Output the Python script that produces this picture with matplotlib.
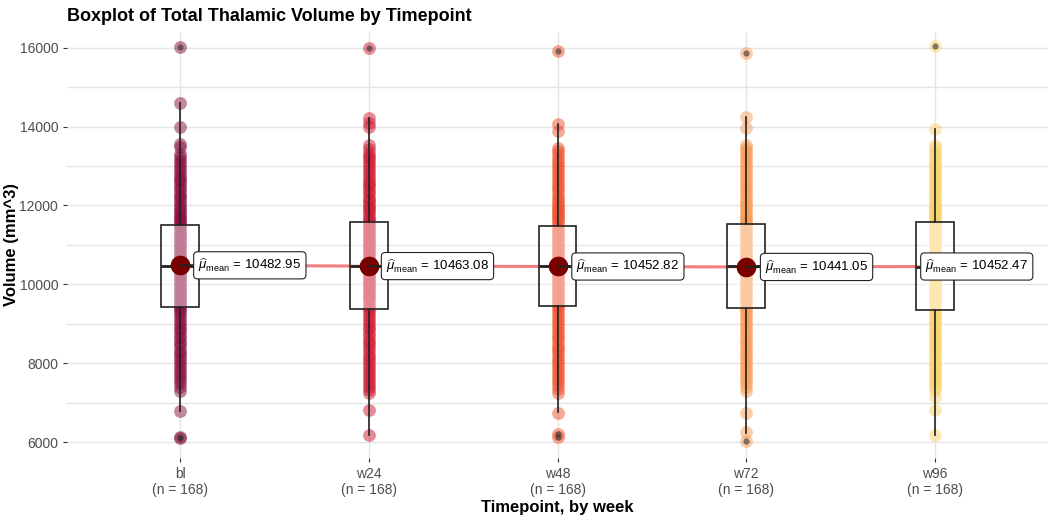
import numpy as np
import matplotlib.pyplot as plt

plt.rcParams['font.family'] = ['Liberation Sans', 'DejaVu Sans']
plt.rcParams['mathtext.fontset'] = 'custom'
plt.rcParams['mathtext.rm'] = 'Liberation Sans'
plt.rcParams['mathtext.it'] = 'Liberation Sans:italic'

# timepoints and group sizes
timepoints = ['bl', 'w24', 'w48', 'w72', 'w96']
n_per_group = [168, 168, 168, 168, 168]
colors = ['#8A0F3F', '#CF1B35', '#EE5330', '#FA9C55', '#FAD36A']

# individual volumes (mm^3)
vol_bl = [16010, 14600, 14000, 13550, 13480, 13300, 13220, 13150, 13070, 13000, 12920,
          12850, 12780, 12700, 12640, 12600, 12530, 12450, 12380, 12300, 12250, 12200,
          12120, 12050, 11980, 11900, 11850, 11800, 11740, 11700, 11650, 11600, 11550,
          11500, 11450, 11400, 11330, 11300, 11250, 11200, 11140, 11100, 11050, 11000,
          10950, 10900, 10860, 10800, 10750, 10700, 10650, 10600, 10550, 10500, 10450,
          10400, 10350, 10300, 10250, 10200, 10150, 10100, 10050, 10000, 9950, 9900,
          9850, 9800, 9750, 9700, 9650, 9600, 9550, 9500, 9450, 9400, 9350, 9300, 9220,
          9150, 9080, 9000, 8920, 8850, 8780, 8700, 8630, 8550, 8480, 8400, 8320, 8250,
          8180, 8100, 8020, 7950, 7880, 7800, 7720, 7650, 7580, 7500, 7400, 7300, 6780,
          6130, 6100]
vol_w24 = [16000, 14220, 14100, 14000, 13540, 13420, 13330, 13260, 13200, 13120, 13050,
           12980, 12900, 12830, 12750, 12680, 12600, 12550, 12500, 12420, 12350, 12280,
           12200, 12150, 12100, 12020, 11950, 11900, 11850, 11780, 11700, 11650, 11600,
           11550, 11500, 11450, 11400, 11350, 11300, 11250, 11200, 11150, 11100, 11050,
           11000, 10950, 10900, 10850, 10800, 10750, 10700, 10650, 10600, 10550, 10500,
           10450, 10400, 10350, 10300, 10250, 10200, 10150, 10100, 10050, 10000, 9950,
           9900, 9850, 9800, 9750, 9700, 9650, 9600, 9520, 9450, 9400, 9350, 9280, 9200,
           9130, 9050, 8980, 8900, 8830, 8750, 8680, 8600, 8530, 8450, 8380, 8300, 8220,
           8150, 8080, 8000, 7920, 7850, 7780, 7700, 7620, 7550, 7480, 7400, 7320, 7250,
           6810, 6180]
vol_w48 = [15910, 14070, 13900, 13470, 13380, 13300, 13200, 13120, 13050, 12980, 12900,
           12820, 12750, 12680, 12600, 12520, 12450, 12380, 12300, 12220, 12150, 12080,
           12000, 11950, 11900, 11850, 11800, 11750, 11700, 11650, 11600, 11530, 11450,
           11400, 11350, 11300, 11250, 11200, 11150, 11100, 11050, 11000, 10950, 10900,
           10850, 10800, 10750, 10700, 10650, 10600, 10550, 10500, 10450, 10400, 10350,
           10300, 10250, 10200, 10150, 10100, 10050, 10000, 9950, 9900, 9850, 9800,
           9750, 9700, 9650, 9600, 9550, 9500, 9450, 9400, 9330, 9250, 9180, 9100, 9020,
           8950, 8880, 8800, 8720, 8650, 8580, 8500, 8420, 8350, 8280, 8200, 8120, 8050,
           7980, 7900, 7820, 7750, 7680, 7600, 7520, 7450, 7350, 7250, 6750, 6200, 6140]
vol_w72 = [15870, 14250, 13960, 13540, 13450, 13400, 13320, 13250, 13180, 13100, 13020,
           12950, 12880, 12800, 12720, 12650, 12580, 12500, 12420, 12350, 12280, 12200,
           12120, 12050, 12000, 11950, 11880, 11800, 11750, 11700, 11650, 11600, 11550,
           11500, 11450, 11400, 11350, 11300, 11250, 11200, 11150, 11100, 11050, 11000,
           10950, 10900, 10850, 10800, 10750, 10700, 10650, 10600, 10550, 10500, 10450,
           10400, 10350, 10300, 10250, 10200, 10150, 10100, 10050, 10000, 9950, 9900,
           9850, 9800, 9750, 9700, 9650, 9600, 9550, 9480, 9400, 9350, 9300, 9220, 9150,
           9080, 9000, 8920, 8850, 8780, 8700, 8620, 8550, 8480, 8400, 8320, 8250, 8180,
           8100, 8020, 7950, 7880, 7800, 7720, 7650, 7580, 7500, 7400, 7300, 6740, 6250,
           6040]
vol_w96 = [16050, 13950, 13540, 13450, 13350, 13280, 13200, 13120, 13050, 12980, 12900,
           12820, 12750, 12680, 12600, 12520, 12450, 12380, 12300, 12220, 12150, 12080,
           12000, 11950, 11900, 11850, 11800, 11750, 11700, 11650, 11600, 11550, 11500,
           11450, 11400, 11350, 11300, 11250, 11200, 11150, 11100, 11050, 11000, 10950,
           10900, 10850, 10800, 10750, 10700, 10650, 10600, 10550, 10500, 10450, 10400,
           10350, 10300, 10250, 10200, 10150, 10100, 10050, 10000, 9950, 9900, 9850,
           9800, 9750, 9700, 9650, 9600, 9550, 9500, 9420, 9350, 9300, 9250, 9180, 9100,
           9020, 8950, 8880, 8800, 8720, 8650, 8580, 8500, 8420, 8350, 8280, 8200, 8120,
           8050, 7980, 7900, 7820, 7750, 7680, 7600, 7520, 7450, 7380, 7320, 7150, 6810,
           6180]
volumes = [vol_bl, vol_w24, vol_w48, vol_w72, vol_w96]

# box statistics
q1 = [9430, 9370, 9450, 9390, 9350]
med = [10467, 10467, 10460, 10460, 10450]
q3 = [11510, 11580, 11470, 11530, 11570]
whis_lo = [6790, 6180, 6760, 6220, 6180]
whis_hi = [14600, 14220, 14070, 14250, 13950]
outliers = [[16010, 6130, 6100], [16000], [15910, 6200, 6140], [15870, 6040], [16050]]

means = [10482.95, 10463.08, 10452.82, 10441.05, 10452.47]
label_x = [1.095, 2.09, 3.10, 4.10, 4.95]

fig = plt.figure(figsize=(10.5, 5.2), dpi=100)
ax = fig.add_axes([0.064, 0.119, 0.934, 0.82])

xpos = np.arange(1, len(timepoints) + 1)

# raw points
for i, vals in enumerate(volumes):
    ax.scatter(np.full(len(vals), xpos[i]), vals, s=85, color=colors[i],
               alpha=0.5, linewidths=0, zorder=2)

# line connecting means
ax.plot(xpos, means, color='#F08080', lw=2.2, zorder=2.5)

# boxplots
stats = []
for i in range(len(timepoints)):
    stats.append(dict(med=med[i], q1=q1[i], q3=q3[i], whislo=whis_lo[i],
                      whishi=whis_hi[i], fliers=outliers[i]))
ax.bxp(stats, positions=xpos, widths=0.2, patch_artist=True, showcaps=False,
       boxprops=dict(facecolor=(1, 1, 1, 0.45), edgecolor='#222222', lw=1.2),
       medianprops=dict(color='#222222', lw=2),
       whiskerprops=dict(color='#222222', lw=1.2),
       flierprops=dict(marker='o', markersize=4.5, markerfacecolor='#333333',
                       markeredgecolor='none', alpha=0.6),
       manage_ticks=False, zorder=3)

# means and labels
ax.scatter(xpos, means, s=200, color='#7A0000', zorder=5, linewidths=0)
for i, m in enumerate(means):
    ax.annotate(r'$\widehat{\mu}_{\mathrm{mean}}$ = ' + f'{m:.2f}',
                xy=(xpos[i], m), xytext=(label_x[i], m),
                ha='left', va='center', fontsize=9.5, zorder=6,
                bbox=dict(boxstyle='round,pad=0.35,rounding_size=0.3',
                          fc='white', ec='#222222', lw=0.8),
                arrowprops=dict(arrowstyle='-', color='#222222', lw=1.5,
                                shrinkA=0, shrinkB=0))

ax.set_xlim(0.4, 5.6)
ax.set_ylim(5594, 16406)
ax.set_yticks([6000, 8000, 10000, 12000, 14000, 16000])
ax.set_yticks([7000, 9000, 11000, 13000, 15000], minor=True)
ax.set_xticks(xpos)
ax.set_xticklabels([f'{t}\n(n = {n})' for t, n in zip(timepoints, n_per_group)])
ax.grid(True, which='both', axis='y', color='#E5E5E5', lw=1)
ax.grid(True, which='major', axis='x', color='#E5E5E5', lw=1)
ax.set_axisbelow(True)
for s in ax.spines.values():
    s.set_visible(False)
ax.tick_params(axis='both', which='major', length=3, color='#333333',
               labelcolor='#4D4D4D', labelsize=10)
ax.tick_params(axis='y', which='minor', length=0)

ax.set_xlabel('Timepoint, by week', fontsize=12, fontweight='bold', labelpad=2)
fig.text(0.011, 0.53, 'Volume (mm^3)', fontsize=12, fontweight='bold',
         rotation=90, ha='center', va='center')
fig.text(0.064, 0.985, 'Boxplot of Total Thalamic Volume by Timepoint',
         fontsize=13, fontweight='bold', ha='left', va='top')

fig.savefig('out.png', dpi=100)
